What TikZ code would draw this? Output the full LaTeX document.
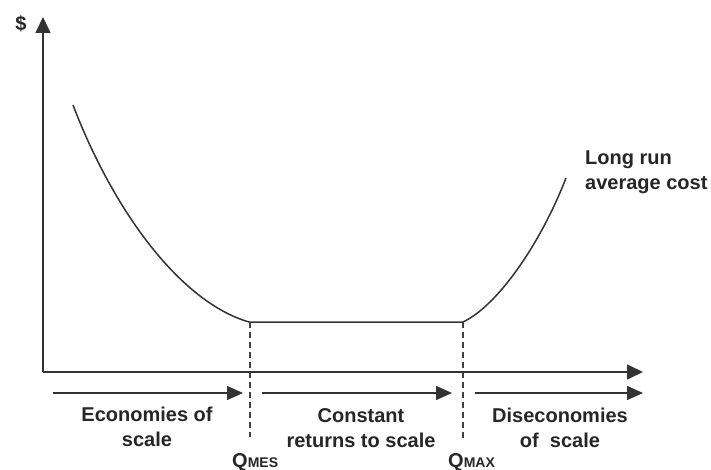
\documentclass[tikz,border=0pt]{standalone}
\usepackage{fontspec}
\setmainfont{Liberation Sans}
\usetikzlibrary{arrows.meta}
\begin{document}
\begin{tikzpicture}[x=1pt,y=-1pt,
  lbl/.style={font=\fontsize{20}{25}\selectfont\bfseries, text=black!85, inner sep=0pt, anchor=base, align=center},
  axis/.style={line width=1.6pt, black!80, -{Triangle[length=16pt,width=15pt]}},
  region/.style={line width=1.5pt, black!80, -{Triangle[length=16pt,width=14pt]}},
  curve/.style={line width=1.5pt, black!80},
  guide/.style={line width=1.2pt, black!75, dash pattern=on 6pt off 4pt}]
\useasboundingbox (0,0) rectangle (711,470);

% axes
\coordinate (O) at (43,372);
\coordinate (ytop) at (43,17);
\coordinate (xend) at (643,372);
\draw[axis] (O) -- (ytop);
\draw[axis] (O) -- (xend);
\node[lbl] (dollar) at (21,31) {\$};

% long run average cost curve
\coordinate (c0) at (73,105);
\coordinate (qmes) at (249,322);
\coordinate (qmax) at (463,322);
\coordinate (c3) at (566,178);
\draw[curve] (c0) .. controls (113,210) and (180,302) .. (qmes)
  -- (qmax) .. controls (497,306) and (540,245) .. (c3);
\node[lbl, anchor=base west, align=left] (lrac) at (585,190) {Long run\\average cost};

% guide lines down to the quantity labels
\coordinate (mesbot) at (250,437);
\coordinate (maxbot) at (463,441);
\draw[guide] (250,322) -- (mesbot);
\draw[guide] (qmax) -- (maxbot);

% region arrows
\coordinate (a1s) at (53,393);
\coordinate (a1e) at (243,393);
\coordinate (a2s) at (262,393);
\coordinate (a2e) at (452,393);
\coordinate (a3s) at (475,393);
\coordinate (a3e) at (643,393);
\draw[region] (a1s) -- (a1e);
\draw[region] (a2s) -- (a2e);
\draw[region] (a3s) -- (a3e);

% the last line of each label sits on the given baseline
\node[lbl] (eos) at (147,446) {Economies of\\scale};
\node[lbl] (crs) at (361,447) {Constant\\returns to scale};
\node[lbl] (dos) at (560,447) {Diseconomies\\of~ scale};

% quantity labels
\node[lbl, anchor=base west] (qmeslbl) at (232,467) {Q\fontsize{14}{14}\selectfont MES};
\node[lbl, anchor=base west] (qmaxlbl) at (448,467) {Q\fontsize{14}{14}\selectfont MAX};
\end{tikzpicture}
\end{document}
